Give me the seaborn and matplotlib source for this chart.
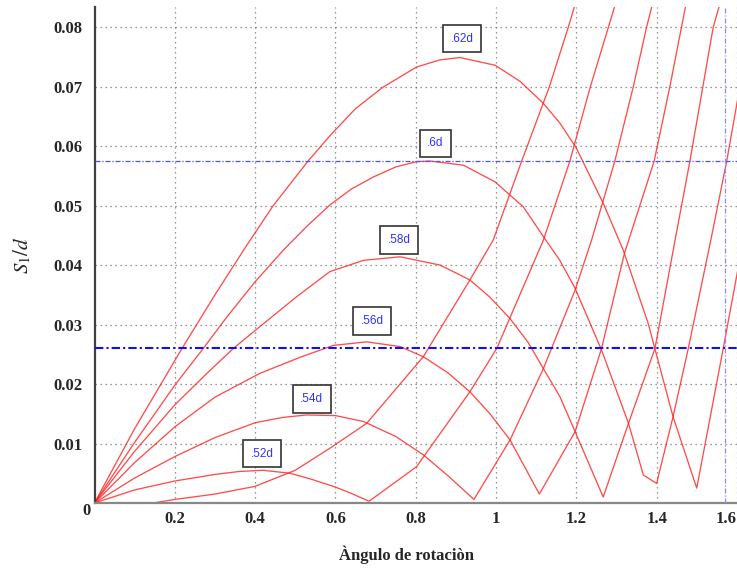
import matplotlib
matplotlib.use('Agg')
import pandas as pd
import matplotlib.pyplot as plt
import seaborn as sns

# ========== 数据 ==========
X_50 = [0, 0.146, 0.2, 0.3, 0.4, 0.5, 0.586, 0.678, 0.819, 0.935, 0.993, 1.064, 1.133, 1.18, 1.2]
Y_50 = [0, 0, 0.0006, 0.0015, 0.0028, 0.0055, 0.0092, 0.0134, 0.0246, 0.0375, 0.0442, 0.0575, 0.07, 0.08, 0.0845]

X_52 = [0, 0.1, 0.2, 0.3, 0.36, 0.42, 0.487, 0.54, 0.599, 0.64, 0.684, 0.802, 0.935, 1.002, 1.118, 1.184, 1.235, 1.28, 1.3]
Y_52 = [0, 0.0022, 0.0037, 0.0048, 0.0053, 0.0055, 0.0050, 0.0040, 0.0027, 0.0016, 0.0003, 0.0061, 0.0187, 0.026, 0.0442, 0.0575, 0.07, 0.08, 0.0845]

X_54 = [0, 0.1, 0.2, 0.3, 0.4, 0.47, 0.528, 0.6, 0.67, 0.75, 0.819, 0.88, 0.945, 1.035, 1.118, 1.197, 1.238, 1.296, 1.342, 1.375, 1.392]
Y_54 = [0, 0.0042, 0.0078, 0.0110, 0.0135, 0.0144, 0.0148, 0.0147, 0.0137, 0.0112, 0.0081, 0.0046, 0.0006, 0.0106, 0.0226, 0.0358, 0.0442, 0.0575, 0.07, 0.08, 0.0845]

X_56 = [0, 0.1, 0.2, 0.3, 0.412, 0.512, 0.595, 0.678, 0.761, 0.819, 0.88, 0.935, 0.985, 1.035, 1.108, 1.197, 1.263, 1.32, 1.394, 1.433, 1.462, 1.475]
Y_56 = [0, 0.0068, 0.0128, 0.0178, 0.0218, 0.0245, 0.0265, 0.0271, 0.0263, 0.0246, 0.0219, 0.0187, 0.0150, 0.0106, 0.0015, 0.012, 0.026, 0.042, 0.0575, 0.07, 0.08, 0.0845]

X_58 = [0, 0.1, 0.2, 0.28, 0.346, 0.4, 0.5, 0.586, 0.67, 0.761, 0.861, 0.935, 0.985, 1.035, 1.08, 1.118, 1.159, 1.197, 1.267, 1.33, 1.396, 1.446, 1.483, 1.541, 1.56]
Y_58 = [0, 0.0087, 0.0165, 0.0218, 0.026, 0.029, 0.0345, 0.0389, 0.0408, 0.0414, 0.040, 0.0375, 0.0346, 0.031, 0.0270, 0.0226, 0.0179, 0.012, 0.001, 0.0134, 0.026, 0.0442, 0.0575, 0.08, 0.0845]

X_60 = [0, 0.1, 0.2, 0.271, 0.33, 0.4, 0.47, 0.53, 0.586, 0.64, 0.694, 0.75, 0.802, 0.836, 0.919, 0.9975, 1.068, 1.118, 1.159, 1.197, 1.263, 1.33, 1.367, 1.40, 1.441, 1.479, 1.535, 1.575, 1.61]
Y_60 = [0, 0.0102, 0.0198, 0.026, 0.0313, 0.0372, 0.0425, 0.0466, 0.0501, 0.0528, 0.0548, 0.0565, 0.0574, 0.0575, 0.0568, 0.054, 0.0498, 0.0448, 0.0408, 0.0361, 0.0257, 0.0134, 0.0047, 0.0033, 0.0145, 0.026, 0.0442, 0.0576, 0.071]

X_62 = [0, 0.1, 0.218, 0.3, 0.375, 0.445, 0.532, 0.587, 0.65, 0.718, 0.802, 0.86, 0.91, 0.998, 1.06, 1.118, 1.16, 1.2, 1.267, 1.317, 1.379, 1.441, 1.50, 1.566, 1.61]
Y_62 = [0, 0.0125, 0.026, 0.035, 0.0429, 0.05, 0.0575, 0.0618, 0.0663, 0.0699, 0.0733, 0.0745, 0.0749, 0.0736, 0.0709, 0.0672, 0.0638, 0.0597, 0.0504, 0.0425, 0.0302, 0.0145, 0.0025, 0.026, 0.042]

CURVE_NAMES = ['.50d', '.52d', '.54d', '.56d', '.58d', '.6d', '.62d']

# etiquetas de las curvas
LABEL_TEXT = ['.52d', '.54d', '.56d', '.58d', '.6d', '.62d']
LABEL_X = [0.417, 0.541, 0.691, 0.758, 0.849, 0.915]
LABEL_Y = [0.0083, 0.0175, 0.0306, 0.0442, 0.0605, 0.0781]

# líneas de referencia
H_LINES = [0.0575, 0.026]
V_LINE = 1.5708

X_TICKS = [0.2, 0.4, 0.6, 0.8, 1.0, 1.2, 1.4, 1.6]
X_TICKLABELS = ['0.2', '0.4', '0.6', '0.8', '1', '1.2', '1.4', '1.6']
Y_TICKS = [0.01, 0.02, 0.03, 0.04, 0.05, 0.06, 0.07, 0.08]
Y_TICKLABELS = ['0.01', '0.02', '0.03', '0.04', '0.05', '0.06', '0.07', '0.08']

# ========== 风格 ==========
sns.set_style('white')
plt.rcParams['font.family'] = ['Liberation Serif', 'DejaVu Serif']
plt.rcParams['mathtext.fontset'] = 'stix'

W, H = 737, 572
fig = plt.figure(figsize=(W / 100, H / 100), dpi=100)
ax = fig.add_axes([94.5 / W, 69 / H, 642.4 / W, 496 / H])

# ========== curvas ==========
frames = []
xs_all = [X_50, X_52, X_54, X_56, X_58, X_60, X_62]
ys_all = [Y_50, Y_52, Y_54, Y_56, Y_58, Y_60, Y_62]
for name, xs, ys in zip(CURVE_NAMES, xs_all, ys_all):
    frames.append(pd.DataFrame({'ang': xs, 's': ys, 'curva': name}))
df = pd.concat(frames, ignore_index=True)

sns.lineplot(data=df, x='ang', y='s', hue='curva', palette=['#ff2020'] * len(CURVE_NAMES),
             estimator=None, sort=False, legend=False, linewidth=0.95, alpha=0.8, ax=ax)

# líneas azules
ax.axhline(H_LINES[0], color='#4f4fff', linewidth=0.9, linestyle=(0, (4, 1.5, 1, 1.5)), zorder=3)
ax.axhline(H_LINES[1], color='#1010ee', linewidth=1.5, linestyle=(0, (4, 1.5, 1, 1.5)), zorder=3)
ax.axvline(V_LINE, color='#8a8aff', linewidth=0.9, linestyle=(0, (4, 1.5, 1, 1.5)), zorder=3)

# cajas de texto
for txt, lx, ly in zip(LABEL_TEXT, LABEL_X, LABEL_Y):
    ax.text(lx, ly, txt, ha='center', va='center', fontsize=8.5, color='#3030ff',
            family=['Liberation Sans', 'DejaVu Sans'], zorder=5,
            bbox=dict(boxstyle='square,pad=0.65', fc='white', ec='#333333', lw=1.2))

# ========== ejes ==========
ax.set_xlim(0, 1.6)
ax.set_ylim(0, 0.0834)
ax.set_xticks(X_TICKS)
ax.set_xticklabels(X_TICKLABELS, fontsize=12, fontweight='bold')
ax.set_yticks(Y_TICKS)
ax.set_yticklabels(Y_TICKLABELS, fontsize=12, fontweight='bold')
ax.get_xticklabels()[-1].set_ha('right')
ax.tick_params(axis='y', direction='in', length=4, width=1.2, color='#444444', pad=9)
ax.tick_params(axis='x', direction='in', length=4, width=1.2, color='#444444', pad=6)
ax.set_xlabel('')
ax.set_ylabel('')
ax.grid(True, color='#555555', linestyle=(0, (1, 3)), linewidth=0.9, alpha=0.8)

for side in ['top', 'right']:
    ax.spines[side].set_visible(False)
ax.spines['left'].set_color('#404040')
ax.spines['left'].set_linewidth(1.6)
ax.spines['bottom'].set_color('#888888')
ax.spines['bottom'].set_linewidth(1.6)

fig.text(86.7 / W, 1 - 511 / H, '0', ha='center', va='center', fontsize=12, fontweight='bold')
fig.text(22 / W, 1 - 255 / H, '$S_1/d$', rotation=90, ha='center', va='center', fontsize=15)
fig.text(406 / W, 1 - 555 / H, 'Àngulo de rotaciòn', ha='center', va='center',
         fontsize=12, fontweight='bold')

fig.savefig('out.png', dpi=100)
plt.close(fig)
